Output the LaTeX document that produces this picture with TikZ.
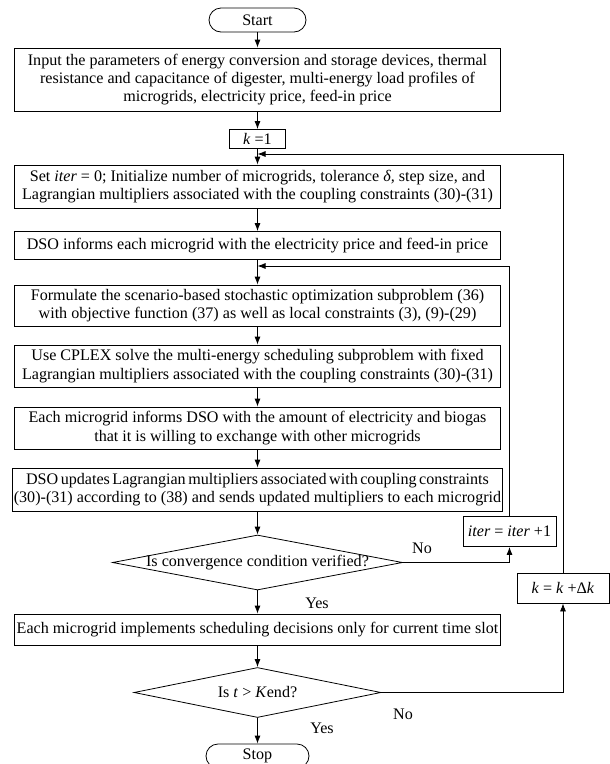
\documentclass[tikz,border=0pt]{standalone}
\usepackage{fontspec}
\setmainfont{Liberation Serif}
\usetikzlibrary{arrows.meta,shapes.geometric}

\begin{document}
\begin{tikzpicture}[x=1pt,y=-1pt,font=\fontsize{16.1}{18.2}\selectfont,line width=0.8pt,>={Latex[length=8pt,width=6pt]}]
\tikzstyle{box}=[draw,minimum width=486pt,align=center,inner sep=1pt]
\tikzstyle{term}=[draw,rounded corners=12pt,minimum height=24pt,inner sep=1pt]
\tikzstyle{small}=[draw,minimum height=30pt,inner sep=1pt]
\tikzstyle{cond}=[diamond,draw,inner sep=0pt]
\useasboundingbox (0,0) rectangle (610,764);

\node (1) at (257.5,20) [term,minimum width=97pt]{Start};
\node (2) at (257.5,79.5) [box,minimum height=63pt]{Input the parameters of energy conversion and storage devices, thermal\\resistance and capacitance of digester, multi-energy load profiles of\\microgrids, electricity price, feed-in price};
\node (3) at (257.5,139) [draw,minimum width=56pt,minimum height=19pt,inner sep=0pt]{\textit{k} =1};
\node (4) at (257.5,186.5) [box,minimum height=43pt]{Set \textit{iter} = 0; Initialize number of microgrids, tolerance \textit{δ,} step size, and\\Lagrangian multipliers associated with the coupling constraints (30)-(31)};
\node (5) at (257.5,245.5) [box,minimum height=28pt]{DSO informs each microgrid with the electricity price and feed-in price};
\node (6) at (257.5,305.5) [box,minimum height=41pt]{Formulate the scenario-based stochastic optimization subproblem (36)\\with objective function (37) as well as local constraints (3), (9)-(29)};
\node (7) at (257.5,366) [box,minimum height=42pt]{Use CPLEX solve the multi-energy scheduling subproblem with fixed\\Lagrangian multipliers associated with the coupling constraints (30)-(31)};
\node (8) at (257.5,428) [box,minimum height=42pt]{Each microgrid informs DSO with the amount of electricity and biogas\\that it is willing to exchange with other microgrids};
\node (9) at (257.5,489.5) [box,minimum height=43pt]{\spaceskip=2.5pt plus 1pt minus 1pt DSO updates Lagrangian multipliers associated with coupling constraints\\(30)-(31) according to (38) and sends updated multipliers to each microgrid};
\node (10) at (257.5,562.5) [cond,minimum width=290pt,minimum height=55pt,label=center:{Is convergence condition verified?}]{};
\node (11) at (509.5,531.5) [small,minimum width=93pt]{\textit{iter} = \textit{iter} +1};
\node (12) at (257.5,629.5) [box,minimum height=31pt]{Each microgrid implements scheduling decisions only for current time slot};
\node (13) at (257.5,692.5) [cond,minimum width=247pt,minimum height=50pt,label=center:{Is \textit{t} > \textit{K}end?}]{};
\node (14) at (563,588) [small,minimum width=92pt]{\textit{k} = \textit{k} +Δ\textit{k}};
\node (15) at (257.5,756) [term,minimum width=103pt]{Stop};

\node (16) at (422,548) {No};
\node (17) at (317,603) {Yes};
\node (18) at (403,714) {No};
\node (19) at (322,728) {Yes};
\coordinate (20) at (257.5,266);
\coordinate (21) at (257.5,154);

\draw[->] (1) -- (2);
\draw[->] (2) -- (3);
\draw[->] (3) -- (4);
\draw[->] (4) -- (5);
\draw[->] (5) -- (6);
\draw[->] (6) -- (7);
\draw[->] (7) -- (8);
\draw[->] (8) -- (9);
\draw[->] (9) -- (10);
\draw[->] (10) -- (12);
\draw[->] (12) -- (13);
\draw[->] (13) -- (15);
\draw[->] (10.east) -| (11.south);
\draw[->] (11.north) |- (20);
\draw[->] (13.east) -| (14.south);
\draw[->] (14.north) |- (21);
\end{tikzpicture}
\end{document}
